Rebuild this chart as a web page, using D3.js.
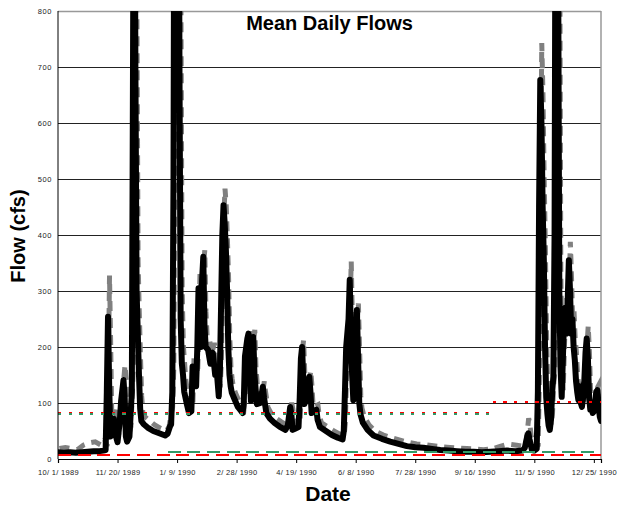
<!DOCTYPE html>
<html>
<head>
<meta charset="utf-8">
<script src="https://cdn.jsdelivr.net/npm/d3@7"></script>
<style>
  body { margin: 0; background: #fff; }
  svg { display: block; font-family: 'Liberation Sans', Arial, sans-serif; }
</style>
</head>
<body>
<div id="chart"></div>
<script>
// daily flow record (cfs)
const dates = [
  '1989-10-01', '1989-10-06', '1989-10-11', '1989-10-16', '1989-10-21', '1989-10-26', '1989-10-31', '1989-11-05',
  '1989-11-08', '1989-11-10', '1989-11-11', '1989-11-12', '1989-11-13', '1989-11-14', '1989-11-16', '1989-11-17',
  '1989-11-18', '1989-11-20', '1989-11-22', '1989-11-23', '1989-11-25', '1989-11-26', '1989-11-27', '1989-11-28',
  '1989-11-30', '1989-12-02', '1989-12-04', '1989-12-05', '1989-12-06', '1989-12-07', '1989-12-08', '1989-12-09',
  '1989-12-10', '1989-12-12', '1989-12-16', '1989-12-20', '1989-12-25', '1989-12-30', '1990-01-01', '1990-01-03',
  '1990-01-04', '1990-01-05', '1990-01-06', '1990-01-07', '1990-01-09', '1990-01-10', '1990-01-11', '1990-01-12',
  '1990-01-13', '1990-01-14', '1990-01-15', '1990-01-17', '1990-01-19', '1990-01-21', '1990-01-22', '1990-01-24',
  '1990-01-25', '1990-01-26', '1990-01-27', '1990-01-28', '1990-01-29', '1990-01-30', '1990-01-31', '1990-02-01',
  '1990-02-02', '1990-02-04', '1990-02-06', '1990-02-08', '1990-02-10', '1990-02-11', '1990-02-13', '1990-02-14',
  '1990-02-16', '1990-02-17', '1990-02-18', '1990-02-19', '1990-02-20', '1990-02-21', '1990-02-22', '1990-02-23',
  '1990-02-24', '1990-02-26', '1990-03-01', '1990-03-03', '1990-03-05', '1990-03-06', '1990-03-07', '1990-03-09',
  '1990-03-10', '1990-03-11', '1990-03-12', '1990-03-13', '1990-03-14', '1990-03-15', '1990-03-17', '1990-03-20',
  '1990-03-22', '1990-03-23', '1990-03-25', '1990-03-28', '1990-04-01', '1990-04-05', '1990-04-10', '1990-04-12',
  '1990-04-14', '1990-04-15', '1990-04-16', '1990-04-18', '1990-04-21', '1990-04-22', '1990-04-23', '1990-04-24',
  '1990-04-25', '1990-04-26', '1990-04-28', '1990-04-30', '1990-05-01', '1990-05-02', '1990-05-04', '1990-05-06',
  '1990-05-07', '1990-05-09', '1990-05-14', '1990-05-19', '1990-05-24', '1990-05-28', '1990-05-29', '1990-05-30',
  '1990-05-31', '1990-06-02', '1990-06-03', '1990-06-04', '1990-06-05', '1990-06-06', '1990-06-07', '1990-06-08',
  '1990-06-09', '1990-06-10', '1990-06-11', '1990-06-12', '1990-06-14', '1990-06-18', '1990-06-23', '1990-06-30',
  '1990-07-07', '1990-07-14', '1990-07-21', '1990-07-28', '1990-08-04', '1990-08-11', '1990-08-18', '1990-08-25',
  '1990-09-01', '1990-09-08', '1990-09-15', '1990-09-22', '1990-09-29', '1990-10-06', '1990-10-13', '1990-10-20',
  '1990-10-26', '1990-10-28', '1990-10-30', '1990-10-31', '1990-11-01', '1990-11-03', '1990-11-05', '1990-11-07',
  '1990-11-08', '1990-11-09', '1990-11-10', '1990-11-11', '1990-11-12', '1990-11-13', '1990-11-14', '1990-11-15',
  '1990-11-16', '1990-11-17', '1990-11-18', '1990-11-19', '1990-11-20', '1990-11-21', '1990-11-22', '1990-11-23',
  '1990-11-24', '1990-11-25', '1990-11-26', '1990-11-27', '1990-11-28', '1990-11-29', '1990-11-30', '1990-12-01',
  '1990-12-02', '1990-12-03', '1990-12-04', '1990-12-05', '1990-12-06', '1990-12-07', '1990-12-08', '1990-12-09',
  '1990-12-10', '1990-12-11', '1990-12-12', '1990-12-13', '1990-12-14', '1990-12-15', '1990-12-16', '1990-12-17',
  '1990-12-18', '1990-12-19', '1990-12-20', '1990-12-21', '1990-12-22', '1990-12-23', '1990-12-24', '1990-12-25',
  '1990-12-26', '1990-12-27', '1990-12-28', '1990-12-29', '1990-12-30', '1990-12-31'
]

// black series
const meanFlow = [
  12, 11, 12, 11, 12, 13, 14, 14,
  15, 16, 120, 254, 130, 40, 60, 72,
  45, 30, 70, 104, 141, 110, 40, 31,
  40, 120, 1300, 700, 300, 225, 150, 90,
  68, 62, 55, 50, 46, 42, 45, 58,
  62, 120, 500, 1400, 1000, 1400, 700, 250,
  170, 150, 120, 100, 82, 85, 165, 160,
  130, 200, 305, 250, 200, 320, 361, 240,
  200, 195, 170, 190, 150, 165, 112, 160,
  400, 453, 420, 373, 300, 200, 150, 130,
  118, 108, 93, 88, 82, 100, 183, 215,
  224, 150, 104, 190, 218, 150, 98, 100,
  129, 110, 82, 72, 64, 58, 52, 60,
  93, 80, 52, 54, 57, 110, 180, 200,
  140, 98, 110, 147, 120, 82, 86, 88,
  70, 57, 50, 43, 38, 35, 50, 123,
  200, 250, 320, 220, 150, 105, 150, 220,
  266, 180, 100, 80, 65, 52, 42, 36,
  31, 27, 23, 21, 20, 18, 16, 15,
  14, 13, 13, 12, 13, 14, 15, 14,
  15, 20, 40, 46, 35, 16, 15, 18,
  120, 450, 677, 600, 450, 355, 200, 110,
  80, 60, 52, 70, 120, 147, 400, 1200,
  1400, 900, 300, 165, 111, 180, 248, 270,
  224, 280, 355, 300, 224, 250, 200, 177,
  140, 120, 105, 130, 100, 93, 110, 140,
  190, 215, 180, 110, 88, 95, 82, 85,
  100, 120, 123, 95, 75, 68
]

// grey dashed series
const peakFlow = [
  16, 18, 16, 14, 22, 26, 28, 22,
  32, 20, 150, 325, 200, 60, 80, 85,
  60, 40, 90, 115, 165, 140, 60, 40,
  55, 160, 1400, 800, 350, 260, 180, 110,
  80, 72, 65, 58, 52, 48, 55, 80,
  90, 160, 560, 1500, 1100, 1500, 800, 300,
  200, 170, 140, 110, 90, 95, 180, 175,
  150, 230, 330, 280, 230, 345, 370, 260,
  215, 210, 185, 205, 160, 180, 125, 180,
  430, 480, 450, 390, 320, 215, 160, 140,
  126, 114, 100, 94, 88, 110, 195, 225,
  230, 165, 115, 205, 228, 160, 106, 108,
  136, 118, 90, 78, 70, 64, 58, 64,
  98, 86, 58, 60, 62, 120, 190, 210,
  150, 106, 118, 155, 128, 90, 92, 94,
  76, 62, 55, 48, 42, 39, 60, 140,
  220, 270, 350, 240, 165, 115, 165, 240,
  275, 195, 110, 88, 72, 58, 47, 40,
  35, 31, 27, 24, 23, 21, 19, 18,
  17, 16, 15, 14, 15, 20, 24, 22,
  20, 30, 70, 60, 40, 20, 18, 22,
  140, 500, 740, 650, 500, 380, 220, 125,
  90, 68, 58, 78, 130, 160, 430, 1300,
  1500, 1000, 330, 180, 120, 195, 262, 285,
  240, 300, 385, 320, 240, 265, 215, 190,
  150, 130, 112, 140, 108, 100, 118, 150,
  200, 235, 190, 118, 94, 102, 88, 92,
  108, 126, 130, 102, 80, 72
]

// flow criteria lines: [start, end, cfs]
const upperRed = [['1989-10-01', '1990-10-01', 82.5], ['1990-10-01', '1990-12-31', 102]]
const upperGreen = [['1989-10-01', '1990-10-01', 79.5]]
const lowerRed = [['1989-10-01', '1990-12-31', 7.5]]
const lowerGreen = [['1990-01-01', '1990-12-31', 12]]

const yTicks = [0, 100, 200, 300, 400, 500, 600, 700, 800]
const xTicks = ['1989-10-01', '1989-11-20', '1990-01-09', '1990-02-28', '1990-04-19', '1990-06-08',
  '1990-07-28', '1990-09-16', '1990-11-05', '1990-12-25']

const W = 618
const H = 505
const plot = { left: 58, right: 601, top: 11, bottom: 459 }

const parse = d3.timeParse('%Y-%m-%d')
const fmt = d3.timeFormat('%-m/ %-d/ %Y')

const svg = d3.select('#chart')
  .append('svg')
  .attr('width', W)
  .attr('height', H)

const x = d3.scaleTime()
  .domain([parse('1989-10-01'), parse('1990-12-31')])
  .range([plot.left, plot.right])

const y = d3.scaleLinear()
  .domain([0, 800])
  .range([plot.bottom, plot.top])

svg.append('defs')
  .append('clipPath')
  .attr('id', 'plot-clip')
  .append('rect')
  .attr('x', plot.left)
  .attr('y', plot.top)
  .attr('width', plot.right - plot.left)
  .attr('height', plot.bottom - plot.top)

// grid + y labels
const yAxis = svg.append('g')
  .attr('class', 'y-axis')
  .attr('transform', `translate(${plot.left}, 0)`)
  .call(d3.axisLeft(y).tickValues(yTicks).tickSize(-(plot.right - plot.left)).tickPadding(6))

yAxis.select('.domain').remove()
yAxis.selectAll('.tick line')
  .attr('stroke', d => d === 800 ? '#999' : '#222')
  .attr('stroke-width', d => d === 800 ? 1.5 : 1)
  .attr('display', d => d === 0 ? 'none' : null)
yAxis.selectAll('.tick text')
  .attr('font-size', '7.5px')
  .attr('letter-spacing', '0.6px')
  .attr('fill', '#222')
  .attr('font-family', "'Liberation Sans', Arial, sans-serif")

// right frame
svg.append('line')
  .attr('x1', plot.right).attr('x2', plot.right)
  .attr('y1', plot.top).attr('y2', plot.bottom)
  .attr('stroke', '#999')
  .attr('stroke-width', 1.5)

const marks = svg.append('g')
  .attr('clip-path', 'url(#plot-clip)')

const series = dates.map((d, i) => ({ date: parse(d), mean: meanFlow[i], peak: peakFlow[i] }))

marks.append('path')
  .datum(series)
  .attr('fill', 'none')
  .attr('stroke', '#808080')
  .attr('stroke-width', 5)
  .attr('stroke-dasharray', '10,7')
  .attr('transform', 'translate(1.5, -1.5)')
  .attr('d', d3.line().x(d => x(d.date)).y(d => y(d.peak)))

marks.append('path')
  .datum(series)
  .attr('fill', 'none')
  .attr('stroke', '#000')
  .attr('stroke-width', 6)
  .attr('stroke-linejoin', 'round')
  .attr('stroke-linecap', 'round')
  .attr('d', d3.line().x(d => x(d.date)).y(d => y(d.mean)))

function drawLevels(rows, color, dash, width) {
  marks.append('g')
    .selectAll('line')
    .data(rows)
    .enter()
    .append('line')
    .attr('x1', d => x(parse(d[0])))
    .attr('x2', d => x(parse(d[1])))
    .attr('y1', d => Math.round(y(d[2])))
    .attr('y2', d => Math.round(y(d[2])))
    .attr('stroke', color)
    .attr('stroke-width', width)
    .attr('stroke-dasharray', dash)
    .attr('shape-rendering', 'crispEdges')
}

drawLevels(lowerRed, '#ff0000', '13,6.7', 2)
drawLevels(lowerGreen, '#339966', '13,6.7', 2)
drawLevels(upperRed, '#ff0000', '3.3,7.4', 2)
drawLevels(upperGreen, '#339966', '3.3,7.4', 2)

// left axis line
svg.append('line')
  .attr('x1', plot.left).attr('x2', plot.left)
  .attr('y1', plot.top).attr('y2', plot.bottom)
  .attr('stroke', '#000')
  .attr('stroke-width', 1)

// x axis
const xAxis = svg.append('g')
  .attr('class', 'x-axis')
  .attr('transform', `translate(0, ${plot.bottom})`)
  .call(d3.axisBottom(x).tickValues(xTicks.map(parse)).tickSize(4).tickPadding(7).tickFormat(fmt))

xAxis.select('.domain')
  .attr('stroke', '#000')
  .attr('stroke-width', 1.2)
xAxis.selectAll('.tick line').attr('stroke', '#000')
xAxis.selectAll('.tick text')
  .attr('font-size', '7.5px')
  .attr('letter-spacing', '0.3px')
  .attr('fill', '#222')
  .attr('font-family', "'Liberation Sans', Arial, sans-serif")

// titles
svg.append('text')
  .attr('x', (plot.left + plot.right) / 2)
  .attr('y', 30)
  .attr('text-anchor', 'middle')
  .attr('font-size', '20px')
  .attr('font-weight', 700)
  .text('Mean Daily Flows')

svg.append('text')
  .attr('x', 328)
  .attr('y', 501)
  .attr('text-anchor', 'middle')
  .attr('font-size', '21px')
  .attr('font-weight', 700)
  .text('Date')

svg.append('text')
  .attr('transform', `translate(25, ${(plot.top + plot.bottom) / 2 + 1}) rotate(-90)`)
  .attr('text-anchor', 'middle')
  .attr('font-size', '20px')
  .attr('font-weight', 700)
  .text('Flow (cfs)')
</script>
</body>
</html>
